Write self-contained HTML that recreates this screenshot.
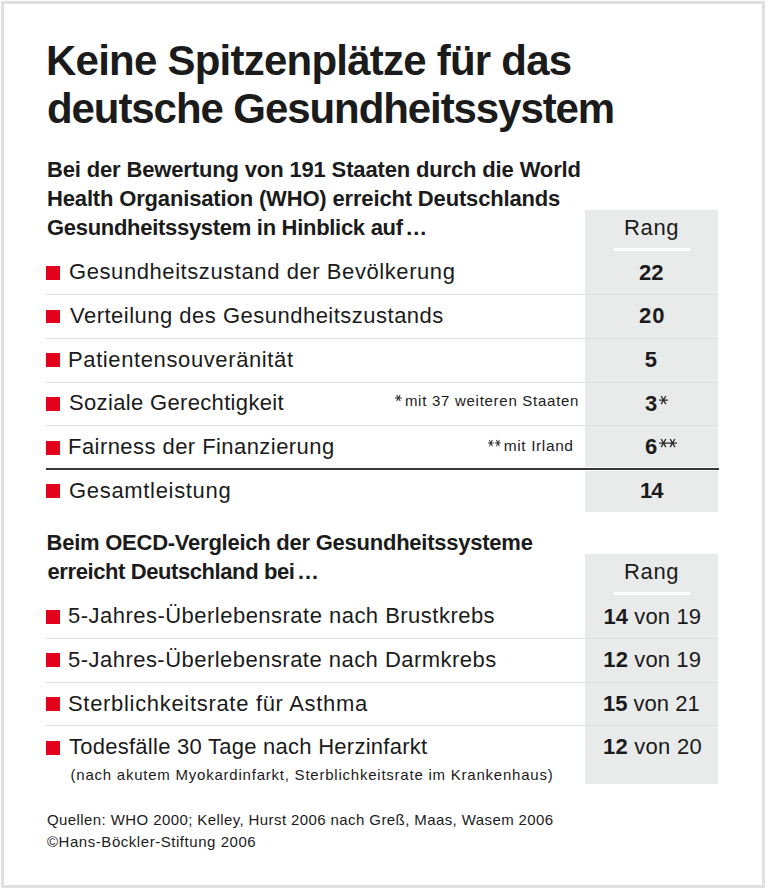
<!DOCTYPE html>
<html><head><meta charset="utf-8"><style>
html,body{margin:0;padding:0;background:#fff;}
body{width:768px;height:889px;position:relative;overflow:hidden;font-family:"Liberation Sans",sans-serif;color:#1b1b1b;}
.t{position:absolute;white-space:nowrap;line-height:1;}
.bl{display:inline-block;width:0;height:0;vertical-align:baseline;}
.box{position:absolute;}
.ast{font-weight:400;font-size:1.14em;letter-spacing:0.8px;color:#2a2a2a;position:relative;top:1.5px;margin-left:1.5px}
.as{display:inline-block;overflow:visible}
.el{margin-left:2.5px;letter-spacing:0}
.fa{font-size:1.12em;position:relative;top:1.5px;margin-right:1px;letter-spacing:0.6px;color:#333}
b{font-weight:700}

</style></head><body>
<div class="box" style="left:1px;top:1px;width:764px;height:887px;border:3px solid #e0e0e0;box-sizing:border-box"></div>
<div class="box" style="left:585px;top:210px;width:133px;height:257px;background:#e9eaea;"></div>
<div class="box" style="left:585px;top:471px;width:133px;height:41px;background:#e9eaea;"></div>
<div class="box" style="left:585px;top:554px;width:133px;height:230px;background:#e9eaea;"></div>
<div class="box" style="left:614px;top:248px;width:76px;height:3px;background:#fff;"></div>
<div class="box" style="left:614px;top:592px;width:76px;height:3px;background:#fff;"></div>
<div class="box" style="left:46px;top:294px;width:672px;height:1px;background:#dfdfdf;"></div>
<div class="box" style="left:46px;top:338px;width:672px;height:1px;background:#dfdfdf;"></div>
<div class="box" style="left:46px;top:382px;width:672px;height:1px;background:#dfdfdf;"></div>
<div class="box" style="left:46px;top:425px;width:672px;height:1px;background:#dfdfdf;"></div>
<div class="box" style="left:46px;top:638px;width:672px;height:1px;background:#dfdfdf;"></div>
<div class="box" style="left:46px;top:682px;width:672px;height:1px;background:#dfdfdf;"></div>
<div class="box" style="left:46px;top:725px;width:672px;height:1px;background:#dfdfdf;"></div>
<div class="box" style="left:585px;top:467px;width:134px;height:4px;background:#fff;"></div>
<div class="box" style="left:46px;top:468px;width:673px;height:2px;background:#383838;"></div>
<div class="box" style="left:46px;top:266px;width:14px;height:14px;background:#e2001a;"></div>
<div class="box" style="left:46px;top:310px;width:14px;height:13px;background:#e2001a;"></div>
<div class="box" style="left:46px;top:353px;width:14px;height:14px;background:#e2001a;"></div>
<div class="box" style="left:46px;top:397px;width:14px;height:14px;background:#e2001a;"></div>
<div class="box" style="left:46px;top:441px;width:14px;height:14px;background:#e2001a;"></div>
<div class="box" style="left:46px;top:484px;width:14px;height:14px;background:#e2001a;"></div>
<div class="box" style="left:46px;top:610px;width:14px;height:14px;background:#e2001a;"></div>
<div class="box" style="left:46px;top:653px;width:14px;height:14px;background:#e2001a;"></div>
<div class="box" style="left:46px;top:697px;width:14px;height:14px;background:#e2001a;"></div>
<div class="box" style="left:46px;top:741px;width:14px;height:14px;background:#e2001a;"></div>
<div class="t" id="t1" style="left:46.00px;top:40.01px;font-size:42px;letter-spacing:-0.769px;font-weight:700">Keine Spitzenplätze für das<i class="bl"></i></div>
<div class="t" id="t2" style="left:47.00px;top:88.01px;font-size:42px;letter-spacing:-1.080px;font-weight:700">deutsche Gesundheitssystem<i class="bl"></i></div>
<div class="t" id="s1" style="left:47.00px;top:159.31px;font-size:22px;letter-spacing:-0.150px;font-weight:700">Bei der Bewertung von 191 Staaten durch die World<i class="bl"></i></div>
<div class="t" id="s2" style="left:47.00px;top:188.31px;font-size:22px;letter-spacing:-0.161px;font-weight:700">Health Organisation (WHO) erreicht Deutschlands<i class="bl"></i></div>
<div class="t" id="s3" style="left:47.00px;top:217.31px;font-size:22px;letter-spacing:-0.297px;font-weight:700">Gesundheitssystem in Hinblick auf<span class="el">…</span><i class="bl"></i></div>
<div class="t" id="rang1" style="left:624.00px;top:217.40px;font-size:22px;letter-spacing:0.667px;font-weight:400">Rang<i class="bl"></i></div>
<div class="t" id="r1" style="left:69.00px;top:261.31px;font-size:22px;letter-spacing:0.576px;font-weight:400">Gesundheitszustand der Bevölkerung<i class="bl"></i></div>
<div class="t" id="r2" style="left:70.00px;top:304.81px;font-size:22px;letter-spacing:0.491px;font-weight:400">Verteilung des Gesundheitszustands<i class="bl"></i></div>
<div class="t" id="r3" style="left:68.00px;top:348.81px;font-size:22px;letter-spacing:0.610px;font-weight:400">Patientensouveränität<i class="bl"></i></div>
<div class="t" id="r4" style="left:69.00px;top:392.31px;font-size:22px;letter-spacing:0.340px;font-weight:400">Soziale Gerechtigkeit<i class="bl"></i></div>
<div class="t" id="r5" style="left:68.00px;top:436.11px;font-size:22px;letter-spacing:0.442px;font-weight:400">Fairness der Finanzierung<i class="bl"></i></div>
<div class="t" id="r6" style="left:69.00px;top:479.72px;font-size:22px;letter-spacing:0.677px;font-weight:400">Gesamtleistung<i class="bl"></i></div>
<div class="t" id="f1" style="left:394.50px;top:392.81px;font-size:15px;letter-spacing:0.725px;font-weight:400"><svg class="as" style="vertical-align:5px;margin-right:3.6px" width="6.8" height="6.1" viewBox="0 0 10 9" preserveAspectRatio="none"><path d="M0 4.5H10M2.4 0L7.6 9M7.6 0L2.4 9" stroke="#2a2a2a" stroke-width="1.5" fill="none"/></svg>mit 37 weiteren Staaten<i class="bl"></i></div>
<div class="t" id="f2" style="left:487.50px;top:438.41px;font-size:15.5px;letter-spacing:0.618px;font-weight:400"><svg class="as" style="vertical-align:5px" width="5.8" height="6.2" viewBox="0 0 10 9" preserveAspectRatio="none"><path d="M0 4.5H10M2.4 0L7.6 9M7.6 0L2.4 9" stroke="#2a2a2a" stroke-width="1.5" fill="none"/></svg><svg class="as" style="vertical-align:5px;margin-left:2px;margin-right:2.6px" width="5.8" height="6.2" viewBox="0 0 10 9" preserveAspectRatio="none"><path d="M0 4.5H10M2.4 0L7.6 9M7.6 0L2.4 9" stroke="#2a2a2a" stroke-width="1.5" fill="none"/></svg>mit Irland<i class="bl"></i></div>
<div class="t" id="o1" style="left:46.50px;top:532.01px;font-size:22px;letter-spacing:-0.244px;font-weight:700">Beim OECD-Vergleich der Gesundheitssysteme<i class="bl"></i></div>
<div class="t" id="o2" style="left:47.50px;top:560.51px;font-size:22px;letter-spacing:-0.408px;font-weight:700">erreicht Deutschland bei<span class="el">…</span><i class="bl"></i></div>
<div class="t" id="rang2" style="left:624.00px;top:561.40px;font-size:22px;letter-spacing:0.667px;font-weight:400">Rang<i class="bl"></i></div>
<div class="t" id="q1" style="left:68.00px;top:605.22px;font-size:22px;letter-spacing:0.479px;font-weight:400">5-Jahres-Überlebensrate nach Brustkrebs<i class="bl"></i></div>
<div class="t" id="q2" style="left:68.00px;top:648.90px;font-size:22px;letter-spacing:0.470px;font-weight:400">5-Jahres-Überlebensrate nach Darmkrebs<i class="bl"></i></div>
<div class="t" id="q3" style="left:68.00px;top:692.72px;font-size:22px;letter-spacing:0.686px;font-weight:400">Sterblichkeitsrate für Asthma<i class="bl"></i></div>
<div class="t" id="q4" style="left:69.00px;top:736.22px;font-size:22px;letter-spacing:0.259px;font-weight:400">Todesfälle 30 Tage nach Herzinfarkt<i class="bl"></i></div>
<div class="t" id="q5" style="left:70.50px;top:767.20px;font-size:15px;letter-spacing:0.771px;font-weight:400">(nach akutem Myokardinfarkt, Sterblichkeitsrate im Krankenhaus)<i class="bl"></i></div>
<div class="t" id="z1" style="left:47.00px;top:812.31px;font-size:15px;letter-spacing:0.406px;font-weight:400">Quellen: WHO 2000; Kelley, Hurst 2006 nach Greß, Maas, Wasem 2006<i class="bl"></i></div>
<div class="t" id="z2" style="left:47.00px;top:833.50px;font-size:15px;letter-spacing:0.546px;font-weight:400">©Hans-Böckler-Stiftung 2006<i class="bl"></i></div>
<div class="t" id="v1" style="left:639.00px;top:261.81px;font-size:22px;letter-spacing:0.000px;font-weight:700">22<i class="bl"></i></div>
<div class="t" id="v2" style="left:639.00px;top:305.41px;font-size:22px;letter-spacing:1.000px;font-weight:700">20<i class="bl"></i></div>
<div class="t" id="v3" style="left:644.70px;top:349.31px;font-size:22px;letter-spacing:0.000px;font-weight:700">5<i class="bl"></i></div>
<div class="t" id="v4" style="left:644.90px;top:393.01px;font-size:22px;letter-spacing:0.000px;font-weight:700">3<svg class="as" style="margin-left:2.2px;vertical-align:7.3px" width="9" height="8.1" viewBox="0 0 10 9" preserveAspectRatio="none"><path d="M0 4.5H10M2.4 0L7.6 9M7.6 0L2.4 9" stroke="#2a2a2a" stroke-width="1.45" fill="none"/></svg><i class="bl"></i></div>
<div class="t" id="v5" style="left:644.90px;top:436.31px;font-size:22px;letter-spacing:0.000px;font-weight:700">6<svg class="as" style="margin-left:1.7px;vertical-align:7.1px" width="9" height="8.1" viewBox="0 0 10 9" preserveAspectRatio="none"><path d="M0 4.5H10M2.4 0L7.6 9M7.6 0L2.4 9" stroke="#2a2a2a" stroke-width="1.45" fill="none"/></svg><svg class="as" style="margin-left:0.3px;vertical-align:7.1px" width="9" height="8.1" viewBox="0 0 10 9" preserveAspectRatio="none"><path d="M0 4.5H10M2.4 0L7.6 9M7.6 0L2.4 9" stroke="#2a2a2a" stroke-width="1.45" fill="none"/></svg><i class="bl"></i></div>
<div class="t" id="v6" style="left:640.00px;top:479.81px;font-size:22px;letter-spacing:-1.000px;font-weight:700">14<i class="bl"></i></div>
<div class="t" id="w1" style="left:603.40px;top:605.76px;font-size:22px;letter-spacing:0.125px;font-weight:400"><b>14</b> von 19<i class="bl"></i></div>
<div class="t" id="w2" style="left:603.30px;top:649.01px;font-size:22px;letter-spacing:0.125px;font-weight:400"><b>12</b> von 19<i class="bl"></i></div>
<div class="t" id="w3" style="left:603.00px;top:692.51px;font-size:22px;letter-spacing:-0.000px;font-weight:400"><b>15</b> von 21<i class="bl"></i></div>
<div class="t" id="w4" style="left:603.00px;top:736.41px;font-size:22px;letter-spacing:0.250px;font-weight:400"><b>12</b> von 20<i class="bl"></i></div>
</body></html>
